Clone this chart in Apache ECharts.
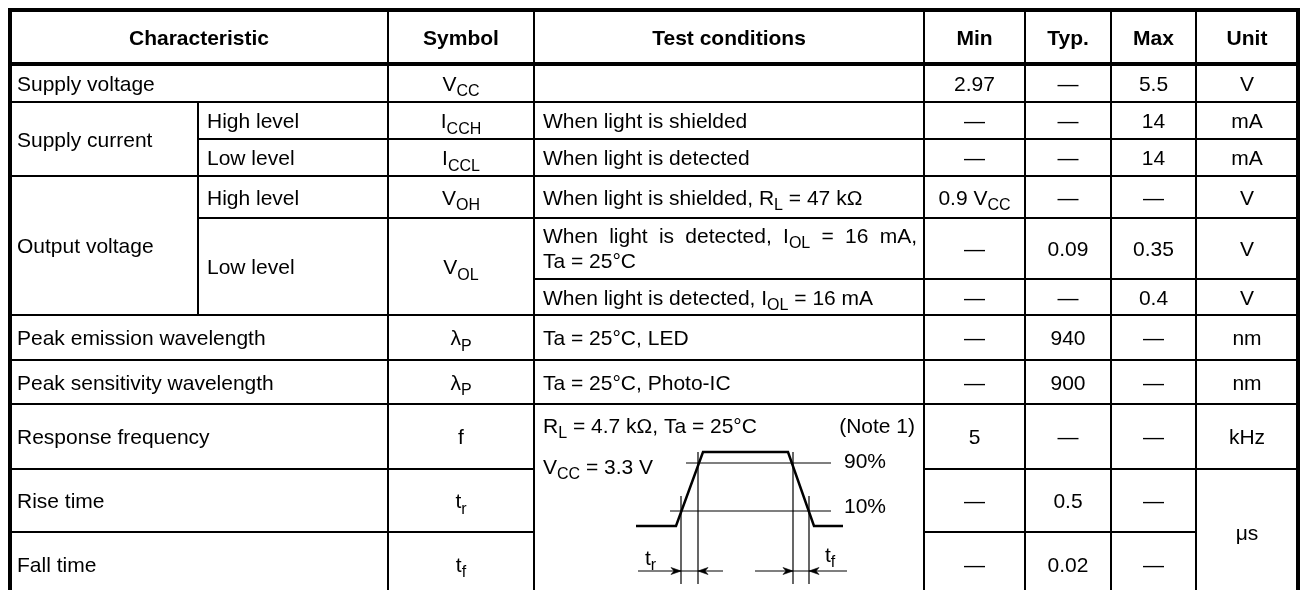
<!DOCTYPE html>
<html><head><meta charset="utf-8">
<script src="https://cdn.jsdelivr.net/npm/echarts@6/dist/echarts.min.js"></script>
<style>html,body{margin:0;padding:0;background:#fff}#c{width:1308px;height:590px}</style>
</head><body><div id="c"></div>
<script>
// ---------------- data ----------------
const headers = ['Characteristic', 'Symbol', 'Test conditions', 'Min', 'Typ.', 'Max', 'Unit'];
const characteristics = ['Supply voltage', 'Supply current', 'Output voltage', 'Peak emission wavelength',
  'Peak sensitivity wavelength', 'Response frequency', 'Rise time', 'Fall time'];
const levels = ['High level', 'Low level', 'High level', 'Low level'];
const symbols = ['V{s|CC}', 'I{s|CCH}', 'I{s|CCL}', 'V{s|OH}', 'V{s|OL}', 'λ{s|P}', 'λ{s|P}', 'f', 't{s|r}', 't{s|f}'];
const conditions = ['', 'When light is shielded', 'When light is detected', 'When light is shielded, R{s|L} = 47 kΩ',
  'When light is detected, I{s|OL} = 16 mA,\nTa = 25°C', 'When light is detected, I{s|OL} = 16 mA',
  'Ta = 25°C, LED', 'Ta = 25°C, Photo-IC'];
const pulseConditions = ['R{s|L} = 4.7 kΩ, Ta = 25°C', '(Note 1)', 'V{s|CC} = 3.3 V', '90%', '10%', 't{s|r}', 't{s|f}'];
const minValues = ['2.97', '—', '—', '0.9 V{s|CC}', '—', '—', '—', '—', '5', '—', '—'];
const typValues = ['—', '—', '—', '—', '0.09', '—', '940', '900', '—', '0.5', '0.02'];
const maxValues = ['5.5', '14', '14', '—', '0.35', '0.4', '—', '—', '—', '—', '—'];
const units = ['V', 'mA', 'mA', 'V', 'V', 'V', 'nm', 'nm', 'kHz', 'μs'];

// ---------------- layout ----------------
const colX = [10, 198, 388, 534, 924, 1025, 1111, 1196, 1298];
const rowY = [10, 64, 102, 139, 176, 218, 279, 315, 360, 404, 469, 532, 596];
const headerCols = [[0, 2], [2, 3], [3, 4], [4, 5], [5, 6], [6, 7], [7, 8]];
const charSpans = [[1, 2, 0, 2], [2, 4, 0, 1], [4, 7, 0, 1], [7, 8, 0, 2], [8, 9, 0, 2], [9, 10, 0, 2], [10, 11, 0, 2], [11, 12, 0, 2]];
const levelRows = [[2, 3], [3, 4], [4, 5], [5, 7]];
const symbolRows = [[1, 2], [2, 3], [3, 4], [4, 5], [5, 7], [7, 8], [8, 9], [9, 10], [10, 11], [11, 12]];
const condRows = [[1, 2], [2, 3], [3, 4], [4, 5], [5, 6], [6, 7], [7, 8], [8, 9]];
const valueRows = [[1, 2], [2, 3], [3, 4], [4, 5], [5, 6], [6, 7], [7, 8], [8, 9], [9, 10], [10, 11], [11, 12]];
const unitRows = [[1, 2], [2, 3], [3, 4], [4, 5], [5, 6], [6, 7], [7, 8], [8, 9], [9, 10], [10, 12]];
const pulseCell = [9, 12, 3, 4];

const FONT = "'Liberation Sans', Arial, Helvetica, sans-serif";
const FS = 21, SUB = 16, TEXT_DY = 2;
const rich = {
  s: { fontSize: SUB, fontFamily: FONT, fill: '#000', padding: [14, 0, 0, 0] }
};

const elements = [];
function cellRect(r0, r1, c0, c1) {
  elements.push({ type: 'rect', silent: true, z: 1,
    shape: { x: colX[c0], y: rowY[r0], width: colX[c1] - colX[c0], height: rowY[r1] - rowY[r0] },
    style: { fill: 'none', stroke: '#000', lineWidth: 2 } });
}
function txt(str, x, y, align, extra) {
  elements.push({ type: 'text', silent: true, z: 5, x: x, y: y,
    style: Object.assign({ text: str, fontSize: FS, fontFamily: FONT, fill: '#000',
      align: align, verticalAlign: 'middle', rich: rich }, extra || {}) });
}
function cellText(str, r0, r1, c0, c1, align, extra) {
  const y = (rowY[r0] + rowY[r1]) / 2 + TEXT_DY;
  let x;
  if (align === 'center') x = (colX[c0] + colX[c1]) / 2;
  else x = colX[c0] + (c0 === 0 ? 7 : 9);
  txt(str, x, y, align, extra);
}

// header
headerCols.forEach((c, i) => {
  cellRect(0, 1, c[0], c[1]);
  cellText(headers[i], 0, 1, c[0], c[1], 'center', { fontWeight: 'bold' });
});
charSpans.forEach((s, i) => { cellRect(s[0], s[1], s[2], s[3]); cellText(characteristics[i], s[0], s[1], s[2], s[3], 'left'); });
levelRows.forEach((r, i) => { cellRect(r[0], r[1], 1, 2); cellText(levels[i], r[0], r[1], 1, 2, 'left'); });
symbolRows.forEach((r, i) => { cellRect(r[0], r[1], 2, 3); cellText(symbols[i], r[0], r[1], 2, 3, 'center'); });

// measuring helper for justified text
const mctx = document.createElement('canvas').getContext('2d');
function measure(str, size) { mctx.font = size + 'px ' + FONT; return mctx.measureText(str).width; }
function plain(str) { return str.replace(/\{s\|([^}]*)\}/g, '$1'); }

condRows.forEach((r, i) => {
  cellRect(r[0], r[1], 3, 4);
  const str = conditions[i];
  if (str.indexOf('\n') >= 0) {
    const lines = str.split('\n');
    // justify the first line across the cell width
    const words = lines[0].split(' ');
    let w = 0;
    words.forEach(t => {
      const m = t.match(/^(.*)\{s\|([^}]*)\}(.*)$/);
      if (m) w += measure(m[1] + m[3], FS) + measure(m[2], SUB);
      else w += measure(t, FS);
    });
    const avail = (colX[4] - 7) - (colX[3] + 9);
    const gap = (avail - w) / (words.length - 1);
    rich.g = { width: gap, fontSize: FS, fontFamily: FONT };
    txt(words.join('{g| }'), colX[3] + 9, 237, 'left');
    txt(lines[1], colX[3] + 9, 262, 'left');
  } else if (str) {
    cellText(str, r[0], r[1], 3, 4, 'left');
  }
});
[minValues, typValues, maxValues].forEach((vals, k) => {
  vals.forEach((v, i) => { const r = valueRows[i]; cellRect(r[0], r[1], 4 + k, 5 + k); cellText(v, r[0], r[1], 4 + k, 5 + k, 'center'); });
});
units.forEach((u, i) => { const r = unitRows[i]; cellRect(r[0], r[1], 7, 8); cellText(u, r[0], r[1], 7, 8, 'center'); });

// pulse diagram cell (schematic, relative to cell origin)
cellRect(pulseCell[0], pulseCell[1], pulseCell[2], pulseCell[3]);
const ox = colX[3], oy = rowY[9];
const wave = [[102, 122], [142, 122], [169, 48], [254, 48], [280, 122], [309, 122]];
elements.push({ type: 'polyline', silent: true, z: 4, shape: { points: wave.map(p => [ox + p[0], oy + p[1]]) },
  style: { stroke: '#000', lineWidth: 2.5, fill: 'none' } });
const thin = [
  [[152, 59], [297, 59]], [[136, 107], [297, 107]],
  [[147, 92], [147, 180]], [[164, 48], [164, 180]], [[259, 48], [259, 180]], [[275, 92], [275, 180]],
  [[104, 167], [189, 167]], [[221, 167], [313, 167]]
];
thin.forEach(l => elements.push({ type: 'polyline', silent: true, z: 4,
  shape: { points: l.map(p => [ox + p[0], oy + p[1]]) }, style: { stroke: '#000', lineWidth: 1.2, fill: 'none' } }));
const heads = [[147, 1], [164, -1], [259, 1], [275, -1]];
heads.forEach(h => elements.push({ type: 'polygon', silent: true, z: 4,
  shape: { points: [[ox + h[0], oy + 167], [ox + h[0] - 10 * h[1], oy + 163.5], [ox + h[0] - 7 * h[1], oy + 167], [ox + h[0] - 10 * h[1], oy + 170.5]] },
  style: { fill: '#000', stroke: '#000', lineWidth: 0.6 } }));
const pulsePos = [[9, 23, 'left'], [381, 23, 'right'], [9, 64, 'left'], [310, 58, 'left'], [310, 103, 'left'], [111, 155, 'left'], [291, 152, 'left']];
pulseConditions.forEach((t, i) => txt(t, ox + pulsePos[i][0], oy + pulsePos[i][1], pulsePos[i][2]));

// thick outer border & header rule
elements.push({ type: 'rect', silent: true, z: 6,
  shape: { x: colX[0], y: rowY[0], width: colX[8] - colX[0], height: rowY[12] - rowY[0] },
  style: { fill: 'none', stroke: '#000', lineWidth: 4 } });
elements.push({ type: 'line', silent: true, z: 6,
  shape: { x1: colX[0], y1: rowY[1], x2: colX[8], y2: rowY[1] }, style: { stroke: '#000', lineWidth: 4 } });

const chart = echarts.init(document.getElementById('c'), null, { renderer: 'canvas' });
chart.setOption({ animation: false, backgroundColor: '#fff', graphic: { elements: elements } });
</script></body></html>
